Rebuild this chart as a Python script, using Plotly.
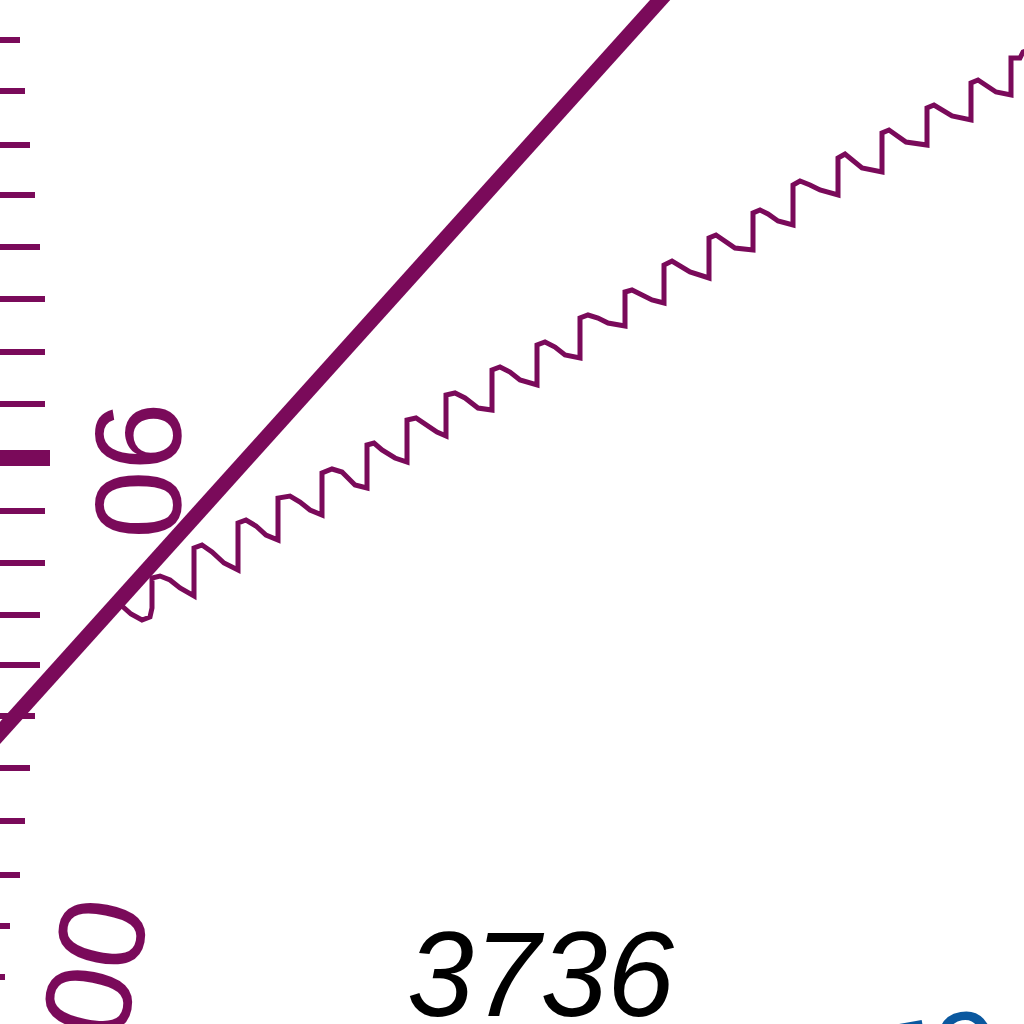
import plotly.graph_objects as go

PURPLE = "#7a0a5a"
BLUE = "#0a589f"

# scale ticks along the left edge (centre y, right end x)
TICK_Y = [40, 91, 145, 195, 247, 299, 352, 404, 511, 563, 615, 665, 716, 768, 821, 875, 926, 977]
TICK_END = [20, 25, 30, 35, 40, 45, 45, 45, 45, 45, 40, 40, 35, 30, 25, 20, 10, 5]
MAJOR_Y = [458]
MAJOR_END = [50]

# straight rod
ROD_X = [-10, 670]
ROD_Y = [744, -11]

# coiled line
COIL_X = [122, 131, 142, 150, 152,
          152, 160, 170, 180, 194,
          194, 202, 212, 224, 238,
          238, 246, 256, 266, 278,
          278, 290, 300, 310, 322,
          322, 332, 342, 355, 367,
          367, 374, 382, 395, 407,
          407, 416, 425, 437, 446,
          446, 455, 465, 478, 492,
          492, 500, 510, 520, 537,
          537, 545, 555, 565, 580,
          580, 588, 598, 608, 625,
          625, 632, 642, 652, 664,
          664, 672, 680, 690, 709,
          709, 716, 724, 735, 753,
          753, 760, 768, 778, 793,
          793, 800, 810, 820, 838,
          838, 845, 853, 862, 882,
          882, 889, 897, 906, 927,
          927, 934, 942, 952, 971,
          971, 978, 986, 996, 1011,
          1011, 1020, 1023, 1030]
COIL_Y = [606, 614, 620, 617, 608,
          578, 576, 580, 588, 596,
          548, 545, 552, 563, 570,
          523, 520, 526, 535, 540,
          498, 496, 502, 510, 515,
          473, 469, 472, 485, 488,
          445, 443, 450, 458, 462,
          420, 418, 424, 432, 436,
          395, 393, 398, 408, 410,
          370, 367, 372, 380, 385,
          345, 342, 347, 355, 358,
          318, 315, 318, 323, 326,
          292, 290, 295, 300, 303,
          265, 261, 266, 272, 278,
          238, 235, 240, 248, 250,
          213, 210, 214, 221, 225,
          185, 181, 185, 190, 195,
          158, 154, 160, 168, 172,
          133, 130, 135, 142, 145,
          108, 105, 110, 116, 120,
          83, 80, 85, 92, 95,
          58, 58, 52, 50]

SCALE_LABELS = ["90", "00"]
SCALE_LABEL_X = [139, 96]
SCALE_LABEL_Y = [470, 967]
SCALE_LABEL_ANGLE = [90, 101]


def segments(ys, ends):
    xs, yy = [], []
    for y, e in zip(ys, ends):
        xs += [-5, e, None]
        yy += [y, y, None]
    return xs, yy


fig = go.Figure()

tx, ty = segments(TICK_Y, TICK_END)
fig.add_trace(go.Scatter(x=tx, y=ty, mode="lines",
                         line={"color": PURPLE, "width": 6}, hoverinfo="skip"))
mx, my = segments(MAJOR_Y, MAJOR_END)
fig.add_trace(go.Scatter(x=mx, y=my, mode="lines",
                         line={"color": PURPLE, "width": 16}, hoverinfo="skip"))
fig.add_trace(go.Scatter(x=ROD_X, y=ROD_Y, mode="lines",
                         line={"color": PURPLE, "width": 15}, hoverinfo="skip"))
fig.add_trace(go.Scatter(x=COIL_X, y=COIL_Y, mode="lines",
                         line={"color": PURPLE, "width": 5}, hoverinfo="skip"))

for txt, x, y, ang in zip(SCALE_LABELS, SCALE_LABEL_X, SCALE_LABEL_Y, SCALE_LABEL_ANGLE):
    fig.add_annotation(x=x, y=y, text=txt, showarrow=False, textangle=ang,
                       font={"family": "Liberation Sans", "size": 123, "color": PURPLE})

fig.add_annotation(x=540, y=974, text="<i>3736</i>", showarrow=False,
                   font={"family": "Liberation Sans", "size": 120, "color": "black"})

# blue label, almost entirely below the bottom edge
fig.add_annotation(x=934, y=979, yanchor="top", text="70", showarrow=False,
                   textangle=-10,
                   font={"family": "Liberation Sans", "size": 120, "color": BLUE})

fig.update_layout(
    width=1024,
    height=1024,
    margin={"l": 0, "r": 0, "t": 0, "b": 0},
    paper_bgcolor="white",
    plot_bgcolor="white",
    showlegend=False,
    xaxis={"range": [0, 1024], "visible": False, "fixedrange": True},
    yaxis={"range": [1024, 0], "visible": False, "fixedrange": True},
)

fig.write_html("out.html", config={"displayModeBar": False},
               post_script="document.body.style.margin='0';")
